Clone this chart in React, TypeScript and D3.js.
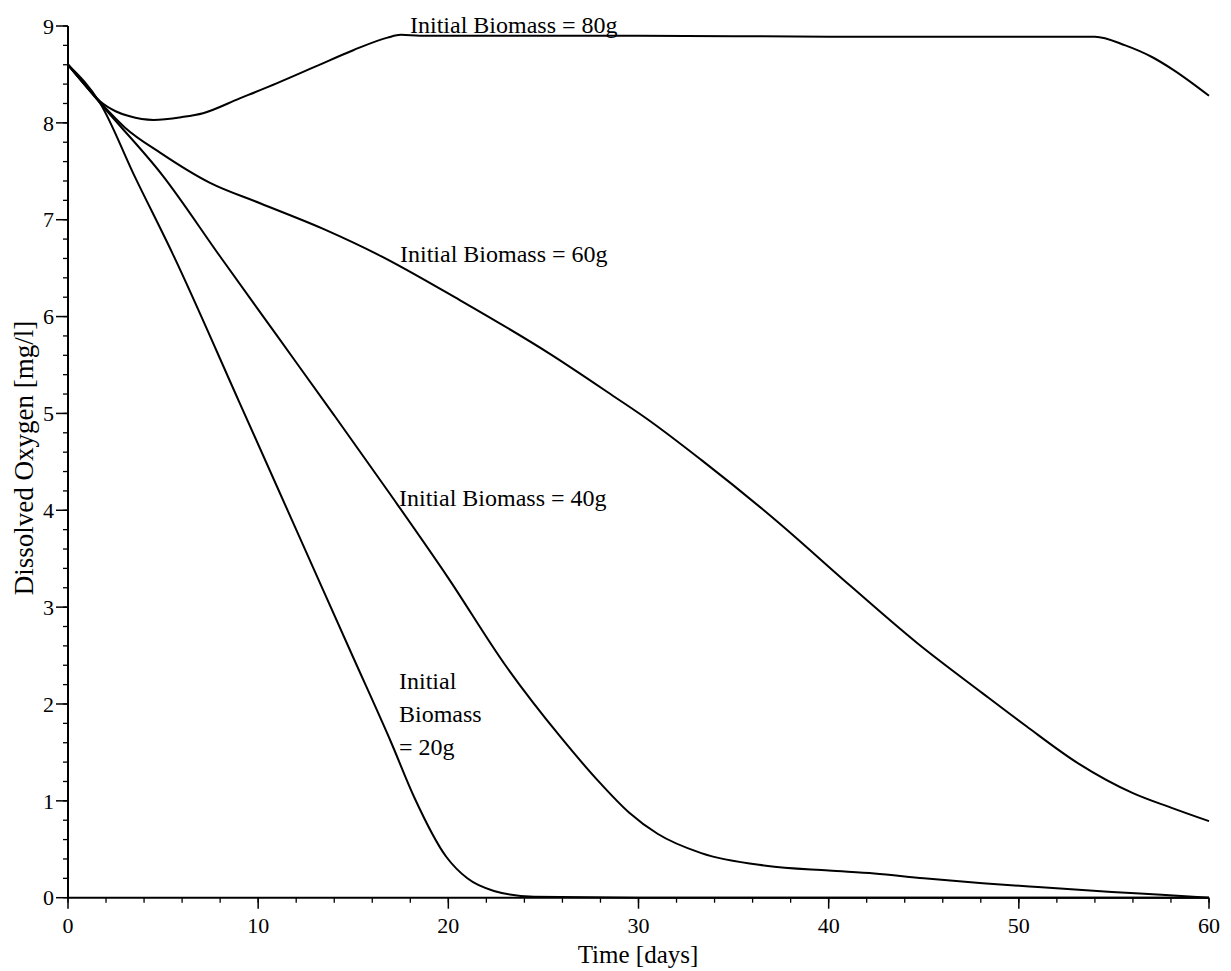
import React from 'react';
import * as d3 from 'd3';

const days20 = [0, 1.7, 3.5, 5.5, 9, 12, 15, 17, 18.2, 19.9, 21, 22.4, 24.5, 30, 40, 50, 60];
const oxygen20 = [8.6, 8.2, 7.45, 6.65, 5.12, 3.8, 2.48, 1.6, 1.04, 0.42, 0.2, 0.07, 0.01, 0, 0, 0, 0];

const days40 = [0, 1.7, 5, 8, 11, 14, 17, 20, 23, 25.9, 28, 29.5, 31, 33.3, 36.7, 40, 42.4, 45, 48.1, 51, 54.9, 57.5, 60];
const oxygen40 = [8.6, 8.2, 7.45, 6.62, 5.8, 4.98, 4.15, 3.3, 2.4, 1.66, 1.18, 0.88, 0.66, 0.46, 0.33, 0.28, 0.25, 0.2, 0.15, 0.11, 0.06, 0.03, 0];

const days60 = [0, 1.7, 3, 4.86, 7.47, 10.1, 13.6, 16.3, 20.6, 25.3, 28.75, 30.4, 33.3, 37.2, 41.2, 44.65, 48.1, 50.4, 53.1, 56, 58, 60];
const oxygen60 = [8.6, 8.21, 7.95, 7.69, 7.38, 7.17, 6.89, 6.64, 6.17, 5.62, 5.17, 4.95, 4.52, 3.9, 3.21, 2.63, 2.11, 1.77, 1.39, 1.08, 0.93, 0.79];

const days80 = [0, 1, 1.7, 2.5, 3.2, 4.5, 6, 7.1, 9, 11, 13, 15, 16.8, 17.5, 18.5, 30, 40, 50, 54, 55.6, 57, 58.1, 60];
const oxygen80 = [8.6, 8.37, 8.22, 8.12, 8.07, 8.03, 8.06, 8.1, 8.25, 8.41, 8.58, 8.75, 8.88, 8.91, 8.9, 8.9, 8.89, 8.89, 8.89, 8.8, 8.68, 8.55, 8.28];

const xTicks = [0, 10, 20, 30, 40, 50, 60];
const yTicks = [0, 1, 2, 3, 4, 5, 6, 7, 8, 9];

const font = '"Liberation Serif", "Times New Roman", serif';

function App() {
  const x = d3.scaleLinear([0, 60], [68, 1209]);
  const y = d3.scaleLinear([0, 9], [897.7, 26]);

  const line = d3.line<[number, number]>()
    .x(d => x(d[0]))
    .y(d => y(d[1]))
    .curve(d3.curveMonotoneX);

  const series = [
    { t: days20, v: oxygen20 },
    { t: days40, v: oxygen40 },
    { t: days60, v: oxygen60 },
    { t: days80, v: oxygen80 },
  ];

  const xMinor = d3.range(0, 61, 2);
  const yMinor = d3.range(0, 9.01, 0.2);

  return (
    <svg width={1231} height={971} style={{ position: 'absolute', left: 0, top: 0, background: '#fff' }}>
      <g stroke="#000" fill="none">
        {/* axes */}
        <line x1={x(0)} x2={x(0)} y1={y(0) + 1} y2={y(9)} strokeWidth={2} />
        <line x1={x(0) - 1} x2={x(60)} y1={y(0)} y2={y(0)} strokeWidth={2} />
        {yMinor.map((v, i) => (
          <line key={'ym' + i} x1={x(0) - 5} x2={x(0)} y1={y(v)} y2={y(v)} strokeWidth={1.3} />
        ))}
        {yTicks.map(v => (
          <line key={'yt' + v} x1={x(0) - 12} x2={x(0)} y1={y(v)} y2={y(v)} strokeWidth={1.5} />
        ))}
        {xMinor.map(t => (
          <line key={'xm' + t} x1={x(t)} x2={x(t)} y1={y(0)} y2={y(0) + 5} strokeWidth={1.3} />
        ))}
        {xTicks.map(t => (
          <line key={'xt' + t} x1={x(t)} x2={x(t)} y1={y(0)} y2={y(0) + 11} strokeWidth={1.5} />
        ))}
        {series.map((s, i) => (
          <path key={'s' + i} d={line(s.t.map((t, j) => [t, s.v[j]] as [number, number])) ?? ''} strokeWidth={2} />
        ))}
      </g>

      <g fontFamily={font} fill="#000">
        {yTicks.map(v => (
          <text key={'yl' + v} x={54} y={y(v)} dy="0.35em" textAnchor="end" fontSize={22}>{v}</text>
        ))}
        {xTicks.map(t => (
          <text key={'xl' + t} x={x(t)} y={933} textAnchor="middle" fontSize={22}>{t}</text>
        ))}
        <text x={638} y={963} textAnchor="middle" fontSize={25}>Time [days]</text>
        <text transform="translate(33,458) rotate(-90)" textAnchor="middle" fontSize={27}>Dissolved Oxygen [mg/l]</text>

        <text x={410} y={33} fontSize={24}>Initial Biomass = 80g</text>
        <text x={400} y={262} fontSize={24}>Initial Biomass = 60g</text>
        <text x={399} y={506} fontSize={24}>Initial Biomass = 40g</text>
        <text x={399} y={689} fontSize={24}>Initial</text>
        <text x={399} y={722} fontSize={24}>Biomass</text>
        <text x={399} y={755} fontSize={24}>= 20g</text>
      </g>
    </svg>
  );
}

export default App;
